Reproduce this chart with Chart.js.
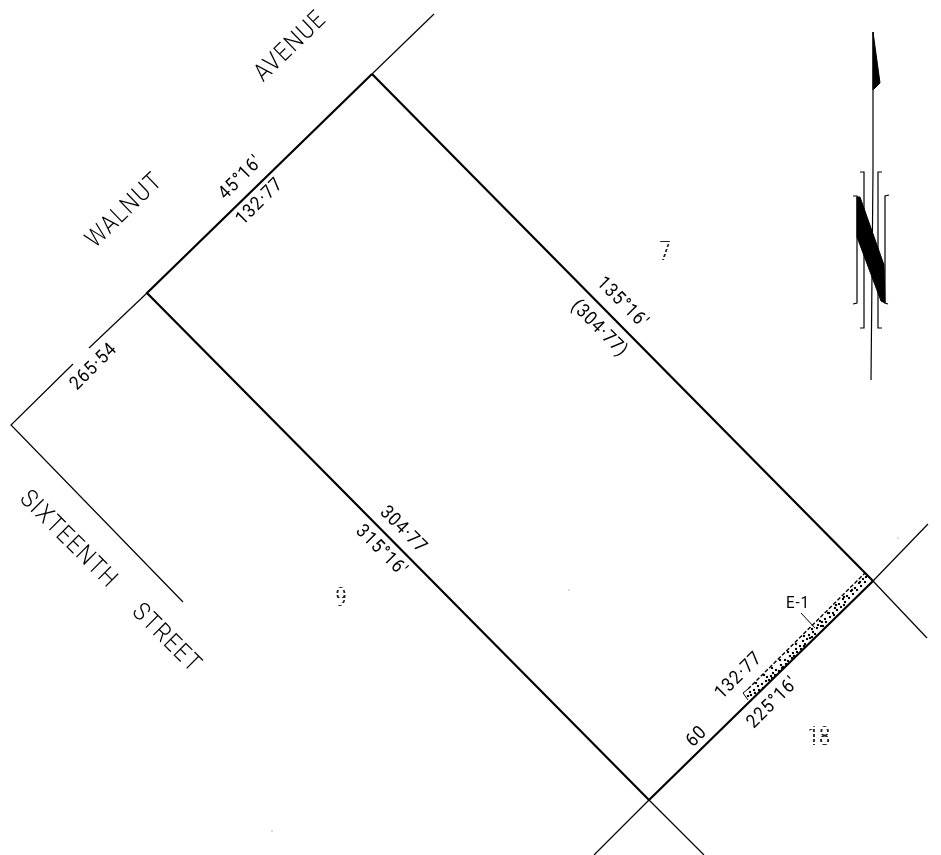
<!DOCTYPE html>
<html>
<head>
<meta charset="utf-8">
<title>Lot survey</title>
<script src="https://cdn.jsdelivr.net/npm/chart.js@4/dist/chart.umd.min.js"></script>
<style>
	html, body { margin: 0; padding: 0; background: #fff; }
	canvas { display: block; }
</style>
</head>
<body>
<canvas id="plan" width="941" height="855"></canvas>
<script>
// Plan data, in page units
const lotBoundary = [[372,74],[147,293],[649,800],[873,581],[372,74]];
const walnutExtension = [[372,74],[434,14]];
const sixteenthUpper = [[147,293],[89,348]];
const sixteenthLower = [[73,364],[11,425],[183,602]];
const southExtensionA = [[649,800],[594,855]];
const southExtensionB = [[649,800],[704,855]];
const eastExtensionA = [[873,581],[928,524]];
const eastExtensionB = [[873,581],[927,638]];
const easementEnd = [[748,700],[743,693],[748,689]];
const easementTop = [[748,689],[865,573]];
const easementLeader = [[801,613],[815,628]];
const easementStipple = [
	[748,696],[750,692],[751,695],[754,690],[755,693],[758,686],[759,690],[762,684],[763,688],[766,681],
	[767,677],[769,680],[771,676],[773,673],[775,675],[776,670],[779,671],[781,665],[782,668],[785,660],
	[786,664],[788,661],[790,656],[792,658],[793,653],[796,649],[797,652],[800,646],[801,649],[803,641],
	[805,644],[807,639],[809,635],[810,638],[813,632],[815,634],[817,628],[818,625],[821,626],[822,622],
	[825,619],[826,622],[829,613],[830,617],[833,613],[835,608],[837,610],[839,604],[841,607],[843,599],
	[845,602],[847,596],[849,598],[851,591],[853,594],[855,588],[857,590],[859,583],[861,586],[863,579],
	[865,582],[866,577],[772,678],[783,667],[794,656],[804,646],[812,637],[823,626],[834,615],[844,605],
	[756,683],[764,675],[772,668],[780,660],[788,652],[796,644],[804,636],[812,629],[820,621],[828,613],
	[836,605],[844,597],[852,590],[860,582]
];
const northStaffUpper = [[873,32],[873,172]];
const northStaffLower = [[873,172],[871,380]];
const northHead = [[873,32],[880,83],[873,90],[873,32]];
const northBar = [[857,197],[860,197],[884,265],[885,303],[881,301],[857,237],[857,197]];
const northOuterLeft = [[853,196],[857,196],[857,303],[853,304]];
const northOuterRight = [[889,195],[885,196],[885,303],[888,304]];
const northInnerLeft = [[860,172],[864,172],[864,328],[860,328]];
const northInnerRight = [[882,172],[878,172],[878,328],[882,328]];
const specks = [[569,590],[272,831],[898,538]];

const roadNames = ["WALNUT", "AVENUE", "SIXTEENTH", "STREET"];
const roadX = [125, 291, 68, 166];
const roadY = [211, 47, 540, 639];
const roadAngle = [-44, -44, 45, 45];

const bearings = ["45°16'", "132·77", "265·54", "135°16'", "(304·77)", "304·77", "315°16'", "132·77", "225°16'", "60"];
const bearingX = [241, 260, 94, 622, 599, 403, 381, 739, 773, 697];
const bearingY = [178, 202, 367, 303, 329, 530, 551, 676, 703, 737];
const bearingAngle = [-45, -45, -45, 45, 45, 45, 45, -45, -45, -45];

const lotNumbers = ["7", "9", "18"];
const lotX = [665, 341, 819];
const lotY = [254, 600, 739];

function toPoints(list) {
	return list.map(p => ({x: p[0], y: p[1]}));
}

function line(list, width, fill, dash) {
	return {
		data: toPoints(list),
		showLine: true,
		borderColor: "#000",
		backgroundColor: "#000",
		borderWidth: width,
		borderDash: dash || [],
		pointRadius: 0,
		fill: fill ? "shape" : false
	};
}

const datasets = [
	line(lotBoundary, 2.2),
	line(walnutExtension, 1.2),
	line(sixteenthUpper, 1.2),
	line(sixteenthLower, 1.2),
	line(southExtensionA, 1.2),
	line(southExtensionB, 1.2),
	line(eastExtensionA, 1.2),
	line(eastExtensionB, 1.2),
	line(easementEnd, 1),
	line(easementTop, 1.4, false, [4, 2]),
	line(easementLeader, 1),
	line(northStaffUpper, 1.2),
	line(northStaffLower, 1.2),
	line(northHead, 1, true),
	line(northBar, 1, true),
	line(northOuterLeft, 1.2),
	line(northOuterRight, 1.2),
	line(northInnerLeft, 1.2),
	line(northInnerRight, 1.2),
	{
		data: toPoints(easementStipple),
		showLine: false,
		pointStyle: "rect",
		pointRadius: 1.5,
		pointBorderWidth: 0,
		pointBackgroundColor: "#000"
	},
	{
		data: toPoints(specks),
		showLine: false,
		pointRadius: 0.6,
		pointBorderWidth: 0,
		pointBackgroundColor: "#666"
	}
];

// stripes make the lot numbers come out broken, like the faint ones on the print
function brokenInk(ctx) {
	const tile = document.createElement("canvas");
	tile.width = 1;
	tile.height = 5;
	const t = tile.getContext("2d");
	t.fillStyle = "#fff";
	t.fillRect(0, 0, 1, 5);
	t.fillStyle = "#222";
	t.fillRect(0, 0, 1, 3);
	return ctx.createPattern(tile, "repeat");
}

// Chart.js has no rotated free text, so the lettering is put on with a small plugin
const lettering = {
	id: "lettering",
	afterDatasetsDraw(chart) {
		const ctx = chart.ctx;
		const xs = chart.scales.x;
		const ys = chart.scales.y;
		function put(text, x, y, angle, font, colour, spacing, squeeze) {
			ctx.save();
			ctx.translate(xs.getPixelForValue(x), ys.getPixelForValue(y));
			ctx.rotate(angle * Math.PI / 180);
			ctx.scale(squeeze, 1);
			ctx.font = font;
			ctx.fillStyle = colour;
			ctx.letterSpacing = spacing;
			ctx.textAlign = "center";
			ctx.textBaseline = "middle";
			ctx.fillText(text, 0, 0);
			ctx.restore();
		}
		roadNames.forEach((t, i) => put(t, roadX[i], roadY[i], roadAngle[i], '300 25px Roboto', "#000", "1.5px", 0.88));
		bearings.forEach((t, i) => put(t, bearingX[i], bearingY[i], bearingAngle[i], '400 19px Roboto', "#000", "1px", 0.9));
		put("E-1", 798, 604, 0, '400 16px Roboto', "#000", "1px", 0.95);
		const ink = brokenInk(ctx);
		lotNumbers.forEach((t, i) => put(t, lotX[i], lotY[i], 0, '400 25px Roboto', ink, "0px", 0.8));
	}
};

new Chart(document.getElementById("plan").getContext("2d"), {
	type: "scatter",
	data: {datasets: datasets},
	plugins: [lettering],
	options: {
		responsive: false,
		animation: false,
		layout: {padding: 0, autoPadding: false},
		plugins: {legend: {display: false}, tooltip: {enabled: false}},
		scales: {
			x: {type: "linear", min: 0, max: 941, display: false},
			y: {type: "linear", min: 0, max: 855, reverse: true, display: false}
		}
	}
});
</script>
</body>
</html>
